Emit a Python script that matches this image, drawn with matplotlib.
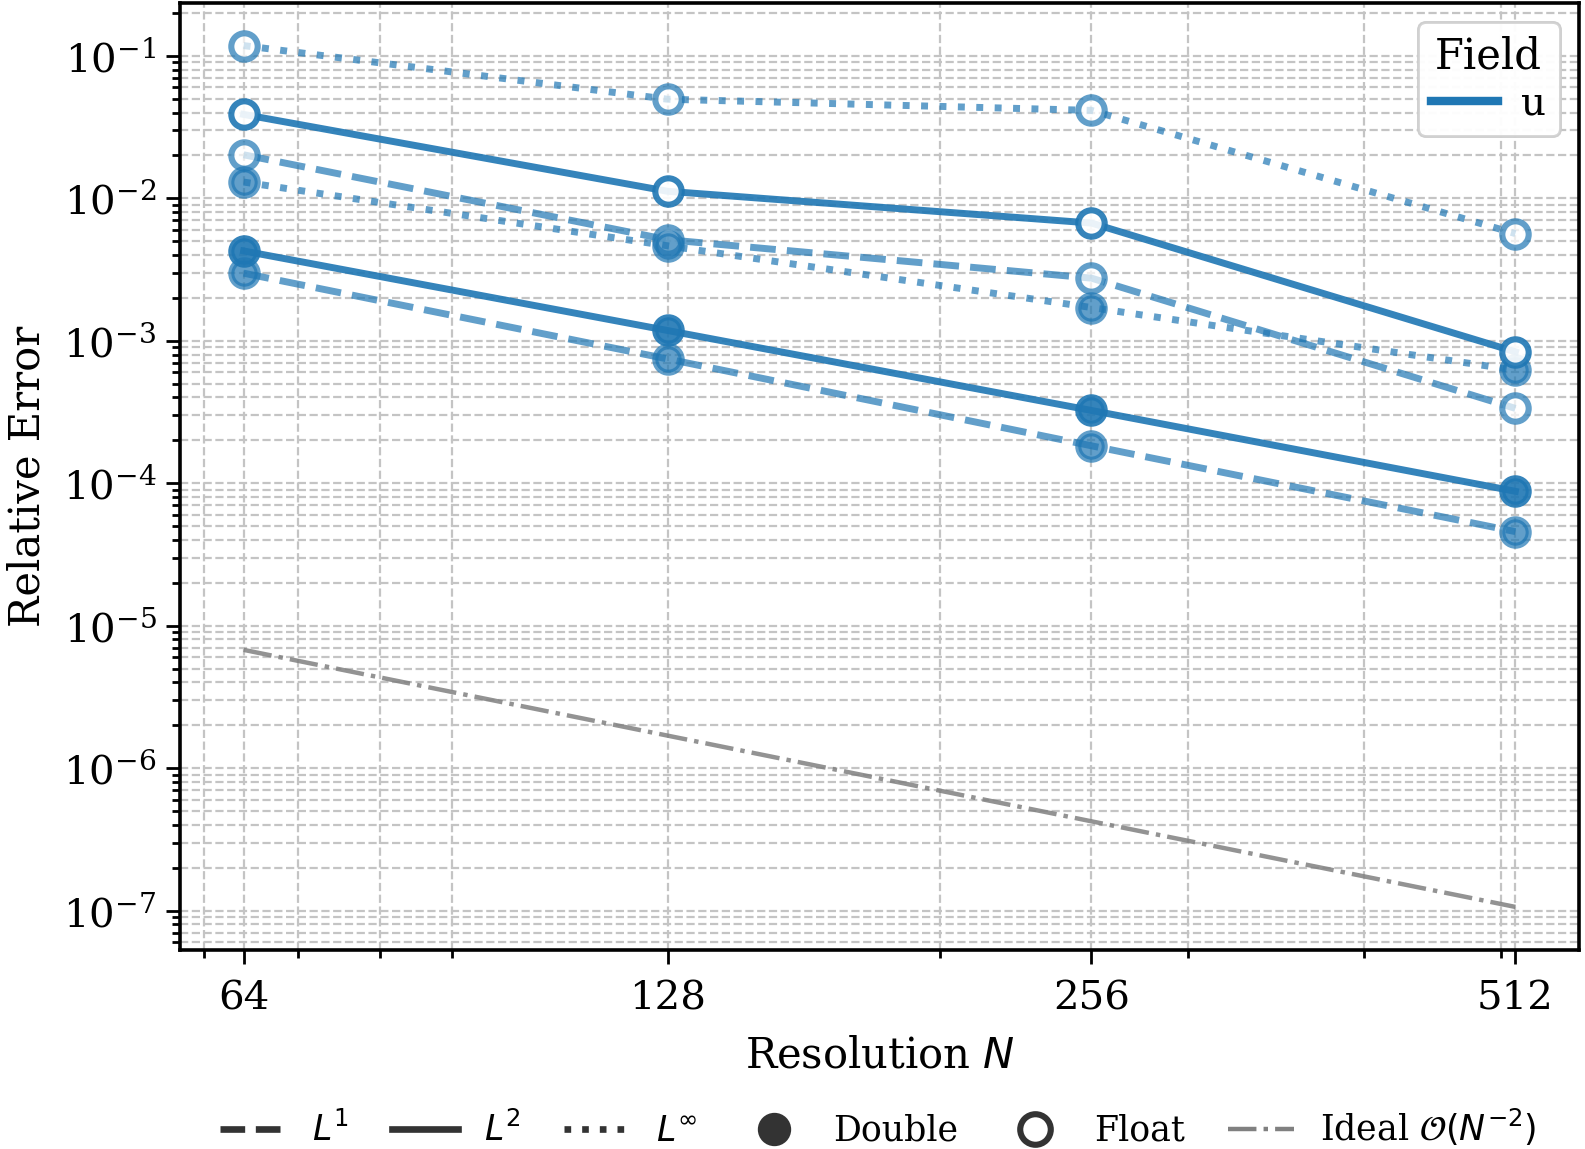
import numpy as np
import matplotlib
matplotlib.use("Agg")
import matplotlib.pyplot as plt
from matplotlib.lines import Line2D
from matplotlib.ticker import FixedLocator, FixedFormatter, NullFormatter

plt.rcParams["font.family"] = "DejaVu Serif"
plt.rcParams["mathtext.fontset"] = "dejavusans"

# resolutions and relative errors
N = [64, 128, 256, 512]

l1_double = [2.98e-3, 7.45e-4, 1.83e-4, 4.57e-5]
l2_double = [4.27e-3, 1.18e-3, 3.24e-4, 8.77e-5]
linf_double = [1.30e-2, 4.64e-3, 1.71e-3, 6.22e-4]

l1_float = [2.02e-2, 5.12e-3, 2.75e-3, 3.35e-4]
l2_float = [3.88e-2, 1.12e-2, 6.70e-3, 8.36e-4]
linf_float = [1.18e-1, 4.96e-2, 4.14e-2, 5.65e-3]

ideal = [6.76e-6, 1.69e-6, 4.23e-7, 1.06e-7]

tick_labels = ["64", "128", "256", "512"]

blue = "#1f77b4"

fig = plt.figure(figsize=(7.925, 5.745), dpi=200)
ax = fig.add_axes([0.1136, 0.1732, 0.8826, 0.8246])

series = [
    (l1_double, "--", "double", 0.7),
    (l1_float, "--", "float", 0.7),
    (linf_double, ":", "double", 0.7),
    (linf_float, ":", "float", 0.7),
    (l2_double, "-", "double", 0.9),
    (l2_float, "-", "float", 0.9),
]
for vals, ls, prec, a in series:
    face = blue if prec == "double" else "white"
    ax.plot(N, vals, linestyle=ls, color=blue, lw=2.5, alpha=a,
            marker="o", ms=9.5, mfc=face, mec=blue, mew=2.2)

ax.plot(N, ideal, linestyle="-.", color="gray", lw=1.6, alpha=0.85)

ax.set_xscale("log")
ax.set_yscale("log")
ax.xaxis.set_major_locator(FixedLocator(N))
ax.xaxis.set_major_formatter(FixedFormatter(tick_labels))
ax.xaxis.set_minor_formatter(NullFormatter())

ax.grid(True, which="both", linestyle="--", color="#c4c4c4", lw=0.8)
ax.set_axisbelow(True)

for s in ax.spines.values():
    s.set_linewidth(1.3)
ax.tick_params(which="major", length=5, width=1.0, labelsize=14.5)
ax.tick_params(which="minor", length=3, width=1.0)
ax.tick_params(axis="x", pad=6)

ax.set_xlabel("Resolution $N$", fontsize=15, labelpad=6)
ax.set_ylabel("Relative Error", fontsize=15, labelpad=5)

field_leg = ax.legend(handles=[Line2D([], [], color=blue, lw=3)], labels=["u"],
                      title="Field", loc="upper right", fontsize=14,
                      title_fontsize=15, handlelength=1.7, handletextpad=0.6,
                      labelspacing=0.2, borderpad=0.35)
ax.add_artist(field_leg)

dk = "#333333"
style_handles = [
    Line2D([], [], color=dk, ls="--", lw=2.4),
    Line2D([], [], color=dk, ls="-", lw=2.4),
    Line2D([], [], color=dk, ls=":", lw=2.4),
    Line2D([], [], color=dk, ls="", marker="o", ms=11, mfc=dk, mec=dk),
    Line2D([], [], color=dk, ls="", marker="o", ms=11, mfc="white", mec=dk, mew=2.2),
    Line2D([], [], color="gray", ls="-.", lw=1.6),
]
style_labels = ["$L^1$", "$L^2$", r"$L^\infty$", "Double", "Float",
                r"Ideal $\mathcal{O}(N^{-2})$"]
fig.legend(style_handles, style_labels, loc="center", ncol=6,
           frameon=False, fontsize=12.5, bbox_to_anchor=(0.554, 0.019),
           handlelength=1.9, columnspacing=1.25, handletextpad=0.75)

fig.savefig("out.png", dpi=200)
